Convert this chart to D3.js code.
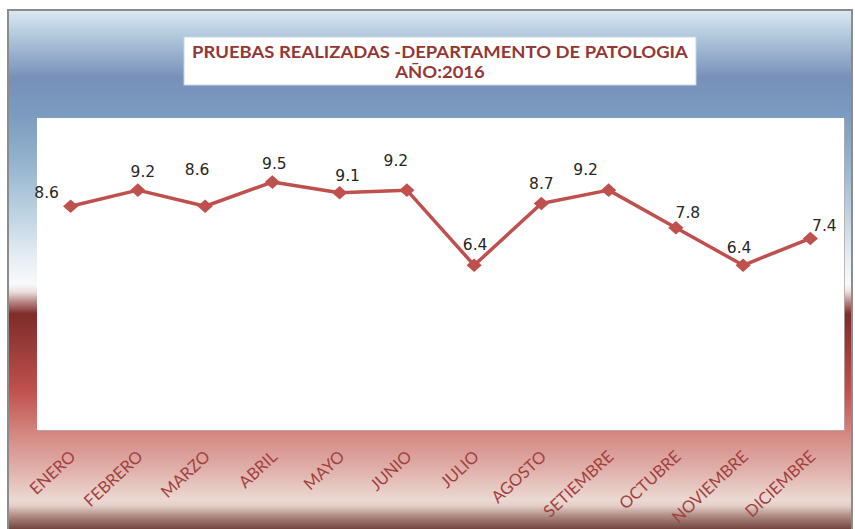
<!DOCTYPE html>
<html>
<head>
<meta charset="utf-8">
<script src="https://cdn.jsdelivr.net/npm/d3@7/dist/d3.min.js"></script>
<style>
  html, body { margin: 0; padding: 0; background: #ffffff; }
  svg { display: block; }
</style>
</head>
<body>
<svg id="chart" width="855" height="529"></svg>
<script>
// ---- data ----
const months = ["ENERO", "FEBRERO", "MARZO", "ABRIL", "MAYO", "JUNIO", "JULIO", "AGOSTO", "SETIEMBRE", "OCTUBRE", "NOVIEMBRE", "DICIEMBRE"];
const values = [8.6, 9.2, 8.6, 9.5, 9.1, 9.2, 6.4, 8.7, 9.2, 7.8, 6.4, 7.4];
const titleLines = ["PRUEBAS REALIZADAS -DEPARTAMENTO DE PATOLOGIA", "AÑO:2016"];
// data-label nudges (layout only)
const labelDx = [-24, 5, -8, 2, 8, -11, 1, 0, -23, 12, -4, 14];
const labelDy = [-8, -13, -31, -13, -12, -24, -15, -15, -15, -10, -12, -7];

const W = 855, H = 529;
const svg = d3.select("#chart");
const defs = svg.append("defs");

// background gradient
const bg = defs.append("linearGradient").attr("id", "bgGrad")
  .attr("gradientUnits", "userSpaceOnUse").attr("x1", 0).attr("x2", 0).attr("y1", 10).attr("y2", 529);
const stops = [
  [10, "#dde9f3"], [40, "#abc3d9"], [78, "#7890b9"], [115, "#7b9bc0"], [160, "#93b2cc"],
  [210, "#bad0e1"], [255, "#e4ecf3"], [284, "#f8fafc"], [292, "#eadede"], [302, "#b98584"],
  [314, "#7f2c2a"], [335, "#8f3634"], [390, "#c0504d"], [432, "#d4857f"], [470, "#e0b1ab"],
  [500, "#ecd9d3"], [506, "#e3cec7"], [515, "#b39189"], [529, "#72463d"]
];
stops.forEach(([y, c]) => bg.append("stop").attr("offset", ((y - 10) / 519)).attr("stop-color", c));

// outer frame
svg.append("rect").attr("x", 8).attr("y", 10).attr("width", 844).attr("height", 525)
  .attr("fill", "url(#bgGrad)").attr("stroke", "#8c8c8c").attr("stroke-width", 2);

// plot area
const plot = { x0: 37, x1: 844, y0: 118, y1: 430 };
svg.append("rect").attr("x", plot.x0 + 1).attr("y", plot.y0 + 1)
  .attr("width", plot.x1 - plot.x0).attr("height", plot.y1 - plot.y0)
  .attr("fill", "#b5a9a9").attr("opacity", 0.8);
svg.append("rect").attr("x", plot.x0).attr("y", plot.y0)
  .attr("width", plot.x1 - plot.x0).attr("height", plot.y1 - plot.y0)
  .attr("fill", "#ffffff");

// scales
const x = d3.scaleBand().domain(months).range([plot.x0, plot.x1]).padding(0);
const y = d3.scaleLinear().domain([0, 12]).range([437, 115]);
const cx = m => x(m) + x.bandwidth() / 2;

// title box
svg.append("rect").attr("x", 184).attr("y", 37).attr("width", 512).attr("height", 48)
  .attr("fill", "#ffffff").attr("stroke", "#c6d5e5").attr("stroke-width", 1);
const tg = svg.append("g");
const t1 = tg.append("text").attr("x", 0).attr("y", 58).attr("text-anchor", "middle")
  .attr("font-family", "Lato, 'Open Sans', sans-serif").attr("font-weight", "bold")
  .attr("font-size", 16.5).attr("fill", "#953735").text(titleLines[0]);
const t2 = tg.append("text").attr("x", 0).attr("y", 78).attr("text-anchor", "middle")
  .attr("font-family", "Lato, 'Open Sans', sans-serif").attr("font-weight", "bold")
  .attr("font-size", 16.5).attr("fill", "#953735").text(titleLines[1]);
const w1 = t1.node().getComputedTextLength();
const sx = 496 / w1;
tg.attr("transform", `translate(440,0) scale(${sx},1)`);

// line
const data = months.map((m, i) => ({ m, v: values[i], i }));
const line = d3.line().x(d => cx(d.m)).y(d => y(d.v));
svg.append("path").datum(data).attr("d", line)
  .attr("fill", "none").attr("stroke", "#c0504d").attr("stroke-width", 3.5)
  .attr("stroke-linejoin", "round");

// markers (diamonds)
svg.selectAll("path.mk").data(data).enter().append("path").attr("class", "mk")
  .attr("d", "M0,-6.8L7.6,0L0,6.8L-7.6,0Z")
  .attr("transform", d => `translate(${cx(d.m)},${y(d.v)})`)
  .attr("fill", "#c0504d");

// data labels
svg.selectAll("text.dl").data(data).enter().append("text").attr("class", "dl")
  .attr("x", d => cx(d.m) + labelDx[d.i]).attr("y", d => y(d.v) + labelDy[d.i])
  .attr("text-anchor", "middle").attr("font-family", "'DejaVu Sans', Verdana, sans-serif")
  .attr("font-size", 15.5).attr("fill", "#262626")
  .text(d => d.v.toFixed(1));

// month labels (rotated)
svg.selectAll("text.ml").data(months).enter().append("text").attr("class", "ml")
  .attr("transform", m => `translate(${cx(m) + 6},458) rotate(-43)`)
  .attr("text-anchor", "end")
  .attr("font-family", "Lato, 'Open Sans', sans-serif").attr("font-size", 16.5)
  .attr("fill", "#a3403e")
  .text(m => m);
</script>
</body>
</html>
